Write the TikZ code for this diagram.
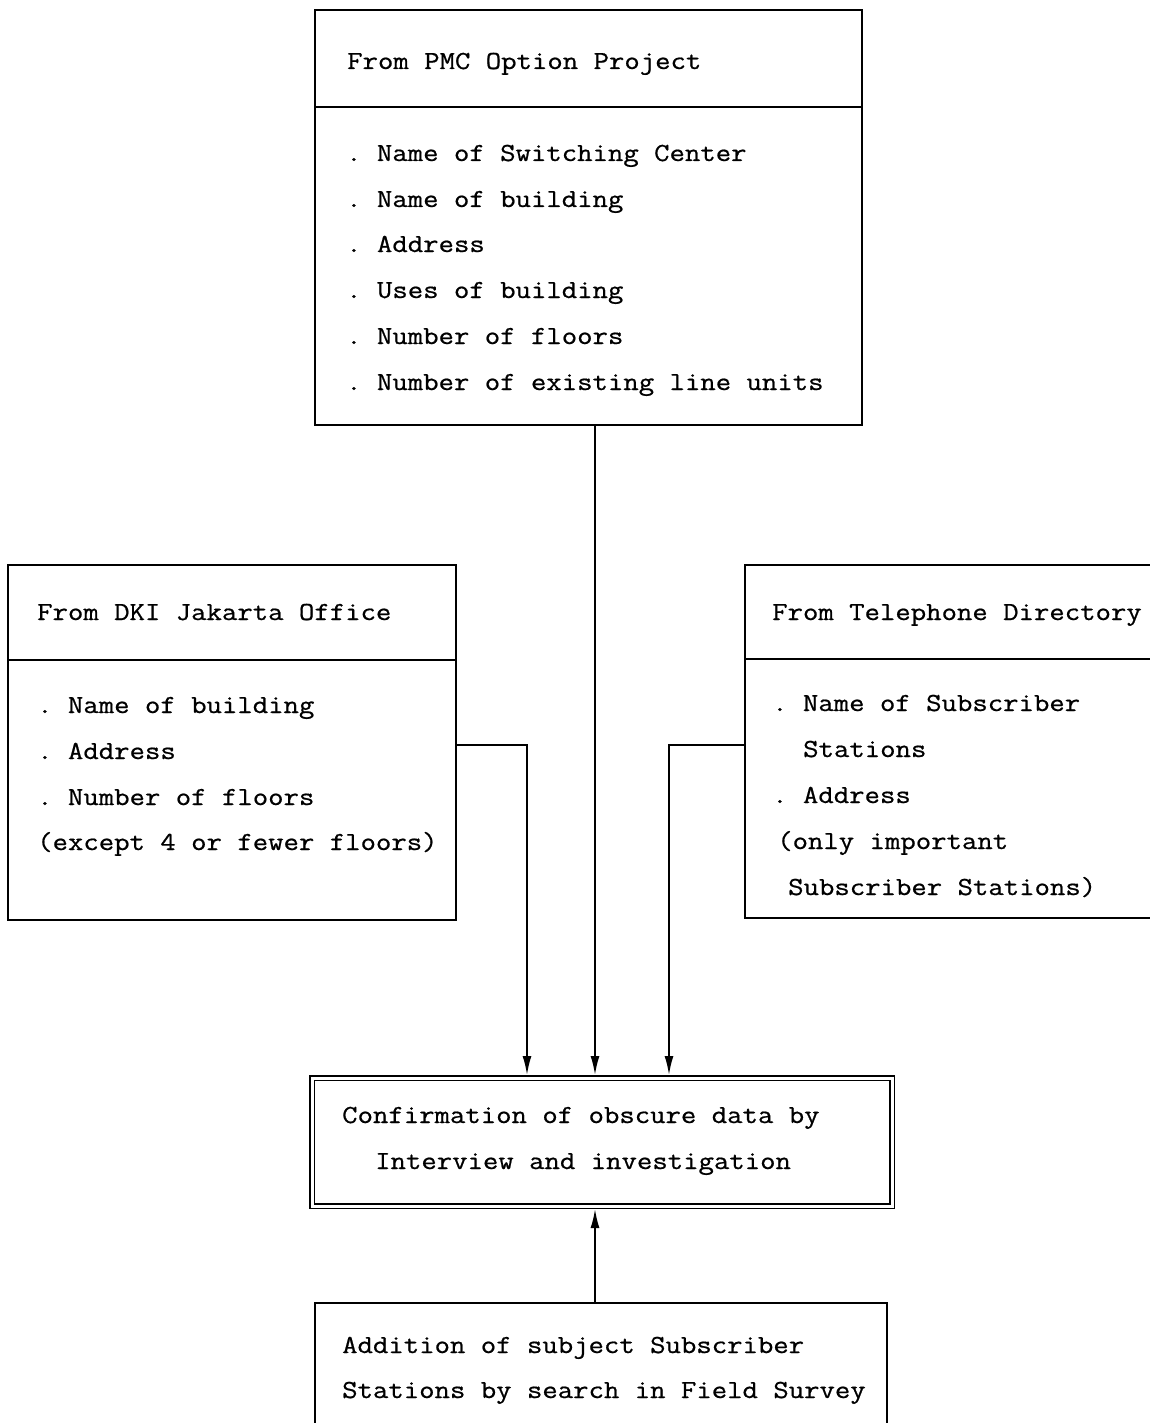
\documentclass[tikz,border=0pt]{standalone}
\usepackage{fontspec}
\setmonofont{Latin Modern Mono}[FakeStretch=1.15, FakeBold=0.7]
\usetikzlibrary{arrows.meta,calc}

\tikzset{
  frame/.style={draw, line width=1.8pt, inner sep=0pt, outer sep=0pt, anchor=north west},
  txt/.style={anchor=base west, inner sep=0pt, font=\ttfamily\fontsize{26}{30}\selectfont},
  divider/.style={line width=1.6pt},
  arr/.style={line width=1.8pt, -{Latex[length=19pt,width=9pt]}},
}

\begin{document}
\begin{tikzpicture}[x=1pt,y=1pt]
\useasboundingbox[fill=white] (0,0) rectangle (1149,-1423);

% ---- source: PMC option project ----
\node[frame, minimum width=547pt, minimum height=415pt] (pmc) at (315,-10) {};
\draw[divider] (pmc.west |- 0,-107) -- (pmc.east |- 0,-107);
\node[txt] (pmc-t) at (347,-69) {From PMC Option Project};
\foreach \i/\y/\s in {1/161/Name of Switching Center, 2/207/Name of building,
                      3/252/Address, 4/298/Uses of building,
                      5/344/Number of floors, 6/390/Number of existing line units}
  \node[txt] (pmc-\i) at (346,-\y) {.\ \s};

% ---- source: DKI Jakarta office ----
\node[frame, minimum width=448pt, minimum height=355pt] (dki) at (8,-565) {};
\draw[divider] (dki.west |- 0,-660) -- (dki.east |- 0,-660);
\node[txt] (dki-t) at (37,-620) {From DKI Jakarta Office};
\node[txt] (dki-1) at (37,-713) {.\ Name of building};
\node[txt] (dki-2) at (37,-759) {.\ Address};
\node[txt] (dki-3) at (37,-805) {.\ Number of floors};
\node[txt] (dki-4) at (37,-850) {(except 4 or fewer floors)};

% ---- source: telephone directory (runs off the right edge) ----
\node[frame, minimum width=430pt, minimum height=353pt] (tel) at (745,-565) {};
\draw[divider] (tel.west |- 0,-659) -- (tel.east |- 0,-659);
\node[txt] (tel-t) at (772,-620) {From Telephone Directory};
\node[txt] (tel-1) at (772,-711) {.\ Name of Subscriber};
\node[txt] (tel-2) at (803,-757) {Stations};
\node[txt] (tel-3) at (772,-803) {.\ Address};
\node[txt] (tel-4) at (777,-849) {(only important};
\node[txt] (tel-5) at (788,-895) {Subscriber Stations)};

% ---- confirmation step (double frame) ----
\node[frame, double, double distance=3pt, line width=1.5pt,
      minimum width=580pt, minimum height=128pt, outer sep=3pt] (conf) at (309,-1075) {};
\node[txt] (conf-1) at (342,-1123) {Confirmation of obscure data by};
\node[txt] (conf-2) at (375,-1169) {Interview and investigation};

% ---- field survey (runs off the bottom edge) ----
\node[frame, minimum width=572pt, minimum height=150pt] (add) at (315,-1303) {};
\node[txt] (add-1) at (342,-1353) {Addition of subject Subscriber};
\node[txt] (add-2) at (342,-1398) {Stations by search in Field Survey};

% ---- connectors ----
\coordinate (mid) at (595,0);
\coordinate (lx) at (527,-745);
\coordinate (rx) at (669,-745);
\draw[arr] (pmc.south -| mid) -- (conf.north -| mid);
\draw[arr] (dki.east |- lx) -| (conf.north -| lx);
\draw[arr] (tel.west |- rx) -| (conf.north -| rx);
\draw[arr] (add.north -| mid) -- (conf.south -| mid);
\end{tikzpicture}
\end{document}
